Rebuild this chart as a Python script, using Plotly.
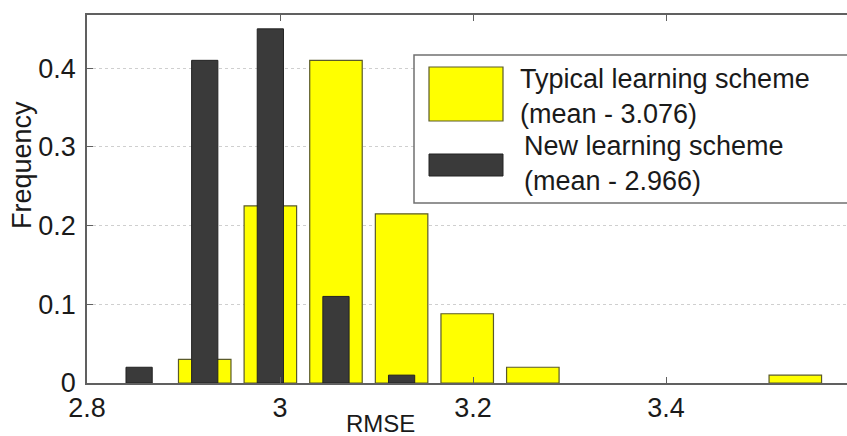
import plotly.graph_objects as go

# ---- data ----
bin_centers = [2.854, 2.922, 2.990, 3.058, 3.126, 3.194, 3.262, 3.330, 3.398, 3.466, 3.534]
typical_freq = [0.0, 0.03, 0.225, 0.41, 0.215, 0.088, 0.02, 0.0, 0.0, 0.0, 0.01]
new_freq = [0.02, 0.41, 0.45, 0.11, 0.01, 0.0, 0.0, 0.0, 0.0, 0.0, 0.0]
series_names = ["Typical learning scheme", "New learning scheme"]
series_means = [3.076, 2.966]
x_ticks = [2.8, 3.0, 3.2, 3.4]
x_tick_labels = ["2.8", "3", "3.2", "3.4"]
y_ticks = [0, 0.1, 0.2, 0.3, 0.4]
y_tick_labels = ["0", "0.1", "0.2", "0.3", "0.4"]

W, H = 847, 436
L, T, B, R = 87, 15, 53, 0
pw, ph = W - L - R, H - T - B
binw = bin_centers[1] - bin_centers[0]

YELLOW = "#FFFF00"
DARK = "#3A3A3A"
FONT = "Liberation Sans, Arial, sans-serif"
TXT = "#1a1a1a"
AX = "#606060"


def px2paper(x, y):
    return (x - L) / pw, (H - B - y) / ph


fig = go.Figure()
fig.add_trace(go.Bar(
    x=bin_centers, y=typical_freq, width=0.8 * binw,
    marker=dict(color=YELLOW,
                line=dict(color="#5a5a2a", width=[1.2 if v > 0 else 0 for v in typical_freq])),
    name=f"{series_names[0]}<br>(mean - {series_means[0]})", showlegend=False,
))
fig.add_trace(go.Bar(
    x=bin_centers, y=new_freq, width=0.4 * binw,
    marker=dict(color=DARK,
                line=dict(color="#222222", width=[1 if v > 0 else 0 for v in new_freq])),
    name=f"{series_names[1]}<br>(mean - {series_means[1]})", showlegend=False,
))

fig.update_layout(
    width=W, height=H, barmode="overlay",
    margin=dict(l=L, r=R, t=T, b=B, pad=0, autoexpand=False),
    paper_bgcolor="white", plot_bgcolor="white",
    font=dict(family=FONT, size=26, color=TXT),
    xaxis=dict(range=[2.8, 2.8 + pw / 965.0], tickvals=x_ticks, ticktext=x_tick_labels,
               ticks="inside", ticklen=6, tickcolor=AX, showgrid=False, zeroline=False,
               showline=True, linecolor=AX, linewidth=1.5, mirror="ticks",
               tickfont=dict(size=27), ticklabelstandoff=0, automargin=False),
    yaxis=dict(range=[0, ph / 787.0], tickvals=y_ticks, ticktext=y_tick_labels,
               ticks="inside", ticklen=6, tickcolor=AX, showgrid=True,
               gridcolor="#cfcfcf", griddash="dot", gridwidth=1, zeroline=False,
               showline=True, linecolor=AX, linewidth=1.5, automargin=False,
               tickfont=dict(size=27), ticklabelstandoff=4),
)

# axis titles (placed as in the original, cropped figure)
ax_, ay_ = px2paper(380, 423)
fig.add_annotation(text="RMSE", x=ax_, y=ay_, xref="paper", yref="paper",
                   showarrow=False, font=dict(size=24, color=TXT),
                   xanchor="center", yanchor="middle")
fx, fy = px2paper(22, 165)
fig.add_annotation(text="Frequency", x=fx, y=fy, xref="paper", yref="paper",
                   showarrow=False, textangle=-90, font=dict(size=27, color=TXT),
                   xanchor="center", yanchor="middle")

# ---- custom legend ----
x0, y0 = px2paper(414, 55)
x1, y1 = px2paper(850, 203)
fig.add_shape(type="rect", xref="paper", yref="paper", x0=x0, y0=y1, x1=x1, y1=y0,
              fillcolor="white", line=dict(color="#707070", width=1.5), layer="above")
sx0, sy0 = px2paper(429, 67)
sx1, sy1 = px2paper(503, 121)
fig.add_shape(type="rect", xref="paper", yref="paper", x0=sx0, y0=sy1, x1=sx1, y1=sy0,
              fillcolor=YELLOW, line=dict(color="#5a5a2a", width=1.2), layer="above")
sx0, sy0 = px2paper(429, 154)
sx1, sy1 = px2paper(503, 176)
fig.add_shape(type="rect", xref="paper", yref="paper", x0=sx0, y0=sy1, x1=sx1, y1=sy0,
              fillcolor=DARK, line=dict(color="#222222", width=1), layer="above")

lx, ly = px2paper(518, 96)
fig.add_annotation(text=f"{series_names[0]}<br>(mean - {series_means[0]:.3f})",
                   x=lx, y=ly, xref="paper", yref="paper", showarrow=False,
                   xanchor="left", yanchor="middle", align="left",
                   font=dict(size=27, color=TXT))
lx, ly = px2paper(522, 163)
fig.add_annotation(text=f"{series_names[1]}<br>(mean - {series_means[1]:.3f})",
                   x=lx, y=ly, xref="paper", yref="paper", showarrow=False,
                   xanchor="left", yanchor="middle", align="left",
                   font=dict(size=27, color=TXT))

fig.write_html(
    "out.html",
    config={"displayModeBar": False},
    post_script="document.body.style.margin='0';document.body.style.overflow='hidden';",
)
